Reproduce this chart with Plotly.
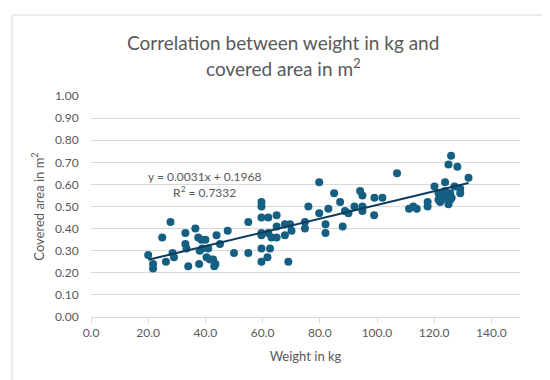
import plotly.graph_objects as go

weight_kg = [20.0, 21.7, 21.7, 24.9, 26.2, 27.8, 28.5, 29.0, 33.0, 33.0, 33.4, 34.0,
             36.5, 37.5, 38.6, 40.0, 38.0, 38.9, 41.0, 37.8, 40.4, 41.6, 42.7, 43.5,
             43.1, 43.9, 45.1, 47.8, 50.0, 55.0, 55.0, 59.6, 59.6, 59.6, 59.6, 59.6,
             59.6, 59.6, 62.0, 62.0, 62.6, 61.7, 63.1, 64.9, 64.9, 64.9, 67.8, 69.6,
             70.1, 67.8, 69.0, 74.8, 74.8, 76.0, 79.8, 79.8, 82.0, 82.0, 83.0, 85.0,
             87.1, 88.0, 88.8, 90.0, 92.1, 94.1, 94.9, 94.9, 94.9, 99.1, 99.0, 101.9,
             107.0, 111.2, 112.7, 113.9, 117.7, 117.7, 120.1, 121.5, 122.6, 123.8, 125.6,
             121.5, 122.6, 124.4, 126.1, 122.1, 125.6, 125.0, 123.8, 125.9, 125.0, 128.1,
             127.1, 129.1, 129.1, 132.0]
covered_area_m2 = [0.28, 0.24, 0.22, 0.36, 0.25, 0.43, 0.29, 0.27, 0.38, 0.33, 0.31, 0.23,
                   0.40, 0.36, 0.35, 0.35, 0.30, 0.31, 0.31, 0.24, 0.27, 0.26, 0.26, 0.24,
                   0.23, 0.37, 0.33, 0.39, 0.29, 0.43, 0.29, 0.52, 0.50, 0.45, 0.38, 0.37,
                   0.31, 0.25, 0.45, 0.38, 0.31, 0.27, 0.36, 0.46, 0.41, 0.36, 0.42, 0.42,
                   0.39, 0.37, 0.25, 0.43, 0.40, 0.50, 0.61, 0.47, 0.42, 0.38, 0.49, 0.56,
                   0.52, 0.41, 0.48, 0.47, 0.50, 0.57, 0.55, 0.50, 0.48, 0.54, 0.46, 0.54,
                   0.65, 0.49, 0.50, 0.49, 0.52, 0.50, 0.59, 0.56, 0.56, 0.57, 0.56,
                   0.53, 0.53, 0.54, 0.54, 0.52, 0.53, 0.51, 0.61, 0.73, 0.69, 0.68,
                   0.59, 0.58, 0.56, 0.63]

slope = 0.0031
intercept = 0.1968
r_squared = 0.7332

x_ticks = [0, 20, 40, 60, 80, 100, 120, 140]

title_line1 = "Correlation between weight in kg and"
title_line2 = "covered area in m<sup>2</sup>"

trend_x = [min(weight_kg), max(weight_kg)]
trend_y = [slope * v + intercept for v in trend_x]

GRAY = "#595959"
FONT = "Lato"

fig = go.Figure()
fig.add_trace(go.Scatter(x=weight_kg, y=covered_area_m2, mode="markers",
                         marker=dict(size=8, color="#156082"),
                         showlegend=False, hoverinfo="x+y"))
fig.add_trace(go.Scatter(x=trend_x, y=trend_y, mode="lines",
                         line=dict(color="#0f3a5f", width=2),
                         showlegend=False, hoverinfo="skip"))

fig.add_annotation(x=39.6, y=0.60, xref="x", yref="y", showarrow=False,
                   text=f"y = {slope}x + {intercept}<br>R<sup>2</sup> = {r_squared}",
                   font=dict(family=FONT, size=12, color=GRAY), align="center")

# title, two lines, centred on the page
fig.add_annotation(x=0.448, y=1.244, xref="paper", yref="paper", showarrow=False,
                   xanchor="center", yanchor="middle", text=title_line1,
                   font=dict(family=FONT, size=19, color=GRAY))
fig.add_annotation(x=0.448, y=1.127, xref="paper", yref="paper", showarrow=False,
                   xanchor="center", yanchor="middle", text=title_line2,
                   font=dict(family=FONT, size=19, color=GRAY))

# chart-area border
fig.add_shape(type="rect", xref="paper", yref="paper",
              x0=-0.184, x1=1.0735, y0=-0.2986, y1=1.3665,
              line=dict(color="#d9d9d9", width=1), fillcolor="rgba(0,0,0,0)", layer="below")

fig.update_layout(
    width=550, height=380,
    margin=dict(l=83, r=38, t=88, b=71),
    paper_bgcolor="white", plot_bgcolor="white",
    font=dict(family=FONT, color=GRAY),
    xaxis=dict(range=[0, 150], tickvals=x_ticks, tickformat=".1f",
               showgrid=False, zeroline=False, showline=True, linecolor="#d9d9d9",
               ticks="outside", ticklen=5, tickcolor="#d9d9d9",
               tickfont=dict(size=12, color=GRAY),
               title=dict(text="Weight in kg", font=dict(size=13, color=GRAY), standoff=12)),
    yaxis=dict(range=[0, 1.0], dtick=0.1, tickformat=".2f",
               showgrid=True, gridcolor="#d9d9d9", gridwidth=1, zeroline=False,
               showline=False, ticks="outside", ticklen=9, tickcolor="rgba(0,0,0,0)",
               tickfont=dict(size=12, color=GRAY),
               title=dict(text="Covered area in m<sup>2</sup>", font=dict(size=13, color=GRAY), standoff=7)),
)

fig.write_html("out.html")
